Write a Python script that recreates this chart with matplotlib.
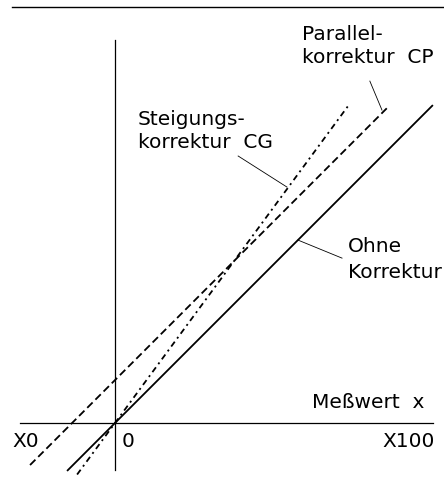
import numpy as np
import matplotlib
matplotlib.use("Agg")
import matplotlib.pyplot as plt

plt.rcParams["font.family"] = ["DejaVu Sans"]

# scale ends of the measuring range
x_lo, x_hi = -32, 107.4
y_lo, y_hi = -15.9, 129.4

# characteristic lines: (x start, x end, slope, offset)
ohne_x = [-16.2, 107.4]
ohne_slope, ohne_offset = 1.0, 0.0
parallel_x = [-28.7, 92.2]
parallel_slope, parallel_offset = 1.0, 14.5
steigung_x = [-12.8, 79.0]
steigung_slope, steigung_offset = 1.36, 0.0

# label lines (text, x, baseline y) and leader lines
labels = [
    ("Parallel-", 63.2, 129.4),
    ("korrektur  CP", 63.2, 121.5),
    ("Steigungs-", 7.8, 100.7),
    ("korrektur  CG", 7.8, 92.9),
    ("Ohne", 78.7, 57.8),
    ("Korrektur", 78.7, 49.0),
    ("Meßwert  x", 66.6, 5.1),
]
leaders = [
    ([86.1, 90.2], [115.5, 105.7]),
    ([41.6, 58.1], [90.2, 79.7]),
    ([61.8, 76.7], [61.8, 55.7]),
]
tick_labels = [("X0", -34.8, "left"), ("0", 2.4, "left"), ("X100", 108.1, "right")]

fig = plt.figure(figsize=(4.44, 4.88), dpi=100)
ax = fig.add_axes([0, 0, 1, 1])
ax.set_xlim(-38.85, 111.15)
ax.set_ylim(-21.96, 142.9)
ax.axis("off")

# page rule at the top
ax.plot([-34.8, 111.15], [140.5, 140.5], color="black", lw=1.0)

# axes
ax.plot([x_lo, x_hi], [0, 0], color="black", lw=0.9)
ax.plot([0, 0], [y_lo, y_hi], color="black", lw=0.9)

def line(xs, k, d):
    xs = np.array(xs)
    return xs, k * xs + d

xs, ys = line(ohne_x, ohne_slope, ohne_offset)
ax.plot(xs, ys, color="black", lw=1.3, solid_capstyle="butt")
xs, ys = line(parallel_x, parallel_slope, parallel_offset)
ax.plot(xs, ys, color="black", lw=1.3, dashes=(4.2, 2.2))
xs, ys = line(steigung_x, steigung_slope, steigung_offset)
ax.plot(xs, ys, color="black", lw=1.3, dashes=(3.3, 2.2, 1.1, 2.2))

for lx, ly in leaders:
    ax.plot(lx, ly, color="black", lw=0.6)

for txt, tx, ty in labels:
    ax.text(tx, ty, txt, fontsize=14.5, ha="left", va="baseline")

for txt, tx, ha in tick_labels:
    ax.text(tx, -8.1, txt, fontsize=14.5, ha=ha, va="baseline")

fig.savefig("out.png", dpi=100, facecolor="white")
